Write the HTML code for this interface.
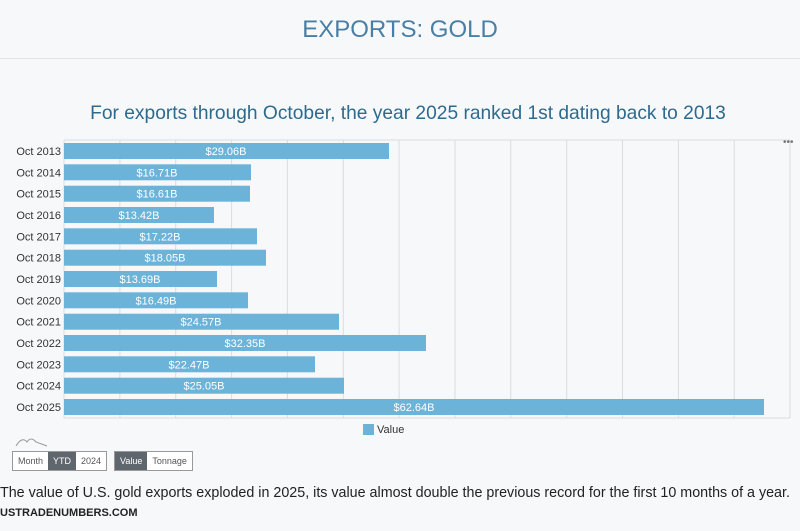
<!DOCTYPE html>
<html><head><meta charset="utf-8"><style>
body{margin:0;width:800px;height:531px;background:#f7f8fa;font-family:"Liberation Sans",sans-serif;overflow:hidden;position:relative}
.b{position:absolute;border:1px solid #999;display:flex;font-size:9px;height:18px;line-height:18px;color:#555;background:#fff}
.b span{padding:0 5px}
.b .on{background:#5f666e;color:#fff}
</style></head><body>
<div style="position:absolute;top:16px;width:800px;text-align:center;font-size:24px;color:#4a7fa5">EXPORTS: GOLD</div>
<div style="position:absolute;top:58px;left:0;width:800px;height:1px;background:#e2e4e7"></div>
<div style="position:absolute;top:103px;width:816px;text-align:center;font-size:19.2px;color:#2e6a8e">For exports through October, the year 2025 ranked 1st dating back to 2013</div>
<svg width="800" height="531" style="position:absolute;left:0;top:0" font-family="Liberation Sans, sans-serif">
<g stroke="#dcdcdc" stroke-width="1">
<line x1="64" y1="140" x2="64" y2="418"/><line x1="119.9" y1="140" x2="119.9" y2="418"/><line x1="175.7" y1="140" x2="175.7" y2="418"/><line x1="231.6" y1="140" x2="231.6" y2="418"/><line x1="287.4" y1="140" x2="287.4" y2="418"/><line x1="343.3" y1="140" x2="343.3" y2="418"/><line x1="399.1" y1="140" x2="399.1" y2="418"/><line x1="455" y1="140" x2="455" y2="418"/><line x1="510.8" y1="140" x2="510.8" y2="418"/><line x1="566.7" y1="140" x2="566.7" y2="418"/><line x1="622.5" y1="140" x2="622.5" y2="418"/><line x1="678.4" y1="140" x2="678.4" y2="418"/><line x1="734.2" y1="140" x2="734.2" y2="418"/><line x1="790" y1="140" x2="790" y2="418"/>
<line x1="64" y1="140" x2="790" y2="140"/><line x1="64" y1="418" x2="790" y2="418"/>
</g>
<text x="783" y="145" font-size="10" fill="#777">•••</text>
<g fill="#6cb3d9">
<rect x="64" y="143" width="325" height="16"/><rect x="64" y="164.3" width="187" height="16"/><rect x="64" y="185.7" width="186" height="16"/><rect x="64" y="207" width="150" height="16"/><rect x="64" y="228.3" width="193" height="16"/><rect x="64" y="249.7" width="202" height="16"/><rect x="64" y="271" width="153" height="16"/><rect x="64" y="292.3" width="184" height="16"/><rect x="64" y="313.7" width="275" height="16"/><rect x="64" y="335" width="362" height="16"/><rect x="64" y="356.3" width="251" height="16"/><rect x="64" y="377.7" width="280" height="16"/><rect x="64" y="399" width="700" height="16"/>
</g>
<g font-size="11" fill="#fff" text-anchor="middle">
<text x="226" y="155">$29.06B</text><text x="157" y="176.3">$16.71B</text><text x="157" y="197.7">$16.61B</text><text x="139" y="219">$13.42B</text><text x="160" y="240.3">$17.22B</text><text x="165" y="261.7">$18.05B</text><text x="140" y="283">$13.69B</text><text x="156" y="304.3">$16.49B</text><text x="201" y="325.7">$24.57B</text><text x="245" y="347">$32.35B</text><text x="189" y="368.3">$22.47B</text><text x="204" y="389.7">$25.05B</text><text x="414" y="411">$62.64B</text>
</g>
<g font-size="11" fill="#333" text-anchor="end">
<text x="61" y="155">Oct 2013</text><text x="61" y="176.3">Oct 2014</text><text x="61" y="197.7">Oct 2015</text><text x="61" y="219">Oct 2016</text><text x="61" y="240.3">Oct 2017</text><text x="61" y="261.7">Oct 2018</text><text x="61" y="283">Oct 2019</text><text x="61" y="304.3">Oct 2020</text><text x="61" y="325.7">Oct 2021</text><text x="61" y="347">Oct 2022</text><text x="61" y="368.3">Oct 2023</text><text x="61" y="389.7">Oct 2024</text><text x="61" y="411">Oct 2025</text>
</g>
<rect x="363" y="424" width="11" height="11" fill="#6cb3d9"/>
<text x="377" y="433" font-size="11" fill="#333">Value</text>
<path d="M16 446 Q22 436 27 442 Q31 436 36 442 L47 446" fill="none" stroke="#999"/>
</svg>
<div class="b" style="left:12px;top:451px"><span>Month</span><span class="on">YTD</span><span>2024</span></div>
<div class="b" style="left:114px;top:451px"><span class="on">Value</span><span>Tonnage</span></div>
<div style="position:absolute;top:485px;left:0;font-size:14.3px;color:#222;white-space:nowrap">The value of U.S. gold exports exploded in 2025, its value almost double the previous record for the first 10 months of a year.</div>
<div style="position:absolute;top:507px;left:0;font-size:11px;font-weight:bold;color:#222">USTRADENUMBERS.COM</div>
</body></html>
